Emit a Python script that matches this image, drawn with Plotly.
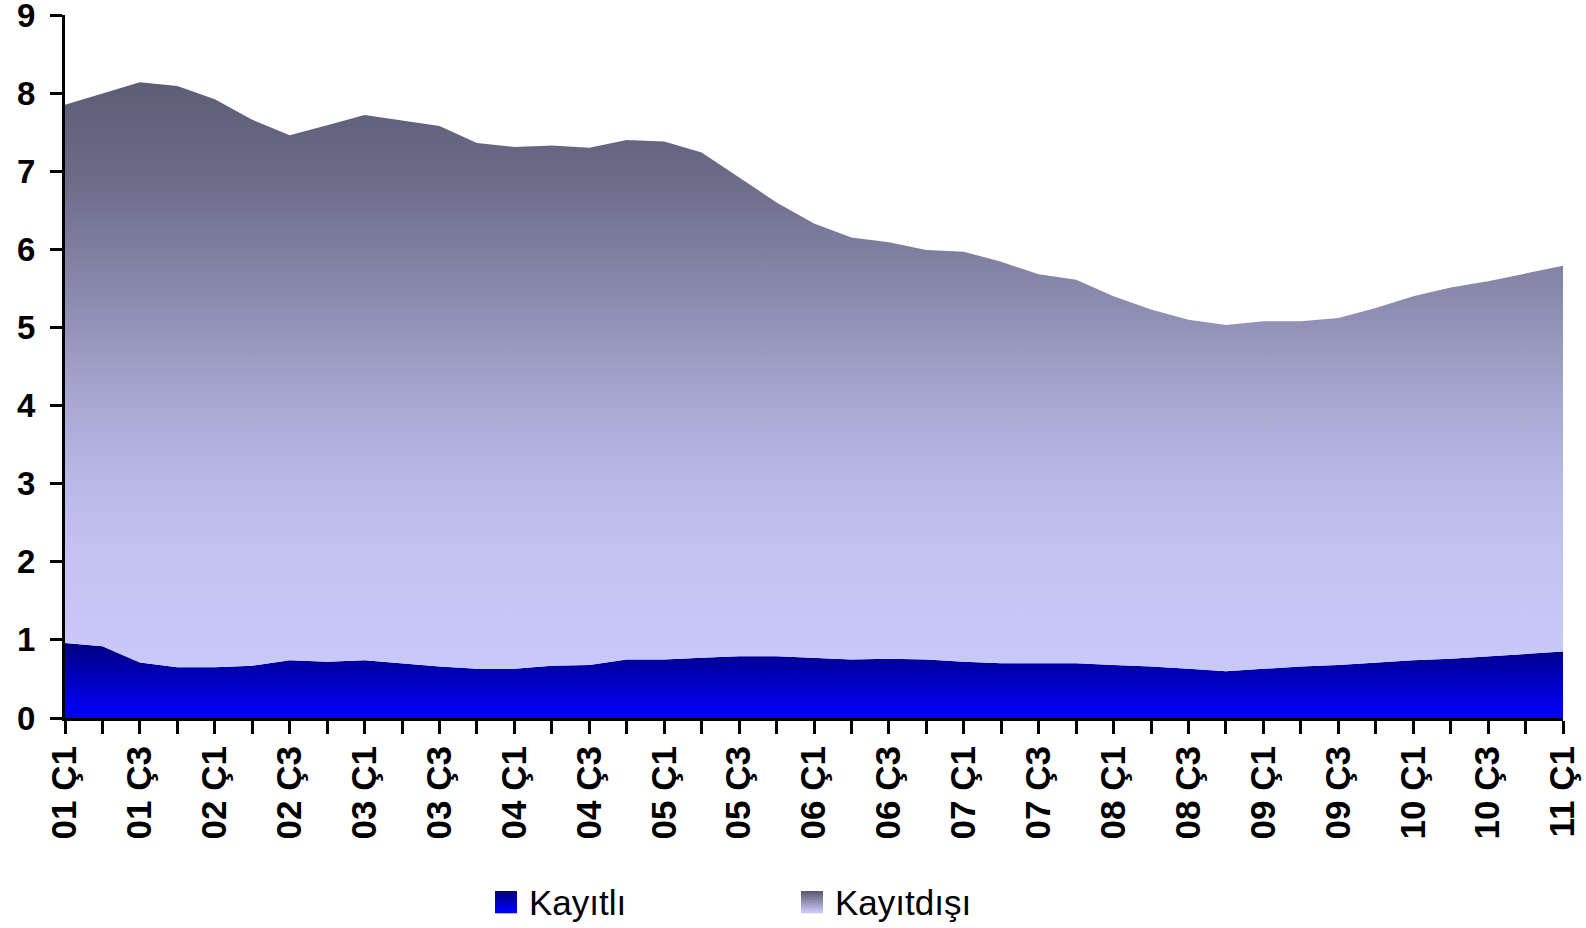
import plotly.graph_objects as go

categories = [
    "01 Ç1", "01 Ç2", "01 Ç3", "01 Ç4", "02 Ç1", "02 Ç2", "02 Ç3", "02 Ç4",
    "03 Ç1", "03 Ç2", "03 Ç3", "03 Ç4", "04 Ç1", "04 Ç2", "04 Ç3", "04 Ç4",
    "05 Ç1", "05 Ç2", "05 Ç3", "05 Ç4", "06 Ç1", "06 Ç2", "06 Ç3", "06 Ç4",
    "07 Ç1", "07 Ç2", "07 Ç3", "07 Ç4", "08 Ç1", "08 Ç2", "08 Ç3", "08 Ç4",
    "09 Ç1", "09 Ç2", "09 Ç3", "09 Ç4", "10 Ç1", "10 Ç2", "10 Ç3", "10 Ç4",
    "11 Ç1",
]

kayitli = [
    0.96, 0.92, 0.71, 0.65, 0.65, 0.67, 0.74, 0.72, 0.74, 0.70,
    0.66, 0.63, 0.63, 0.67, 0.68, 0.75, 0.75, 0.77, 0.79, 0.79,
    0.77, 0.75, 0.76, 0.75, 0.72, 0.70, 0.70, 0.70, 0.68, 0.66,
    0.63, 0.60, 0.63, 0.66, 0.68, 0.71, 0.74, 0.76, 0.79, 0.82,
    0.85,
]

kayitdisi = [
    6.89, 7.07, 7.43, 7.44, 7.27, 6.99, 6.72, 6.87, 6.98, 6.95,
    6.92, 6.73, 6.68, 6.66, 6.62, 6.65, 6.63, 6.47, 6.13, 5.81,
    5.56, 5.40, 5.33, 5.24, 5.25, 5.14, 4.98, 4.91, 4.72, 4.57,
    4.47, 4.43, 4.45, 4.42, 4.44, 4.54, 4.66, 4.75, 4.80, 4.87,
    4.94,
]

series_names = ["Kayıtlı", "Kayıtdışı"]
y_ticks = [0, 1, 2, 3, 4, 5, 6, 7, 8, 9]
x_ticktext = [c if i % 2 == 0 else "" for i, c in enumerate(categories)]

# ---- styling ----
W, H = 1586, 928
ML, MR, MT, MB = 65, 23, 15, 210
PW, PH = W - ML - MR, H - MT - MB

TOP = 8.2
disi_scale = [
    [0.0, "#C9C9FA"],
    [1.0 / TOP, "#C8C8F8"],
    [2.0 / TOP, "#C4C4F3"],
    [3.0 / TOP, "#B9B9E7"],
    [4.0 / TOP, "#A8A8D3"],
    [5.0 / TOP, "#9393BA"],
    [6.0 / TOP, "#7E7E9E"],
    [7.0 / TOP, "#6A6A87"],
    [1.0, "#5C5C76"],
]
kay_scale = [[0, "#0000FF"], [1, "#000080"]]

fig = go.Figure()
fig.add_trace(go.Scatter(
    x=categories, y=kayitli, name=series_names[0], mode="lines",
    stackgroup="one", line=dict(width=0), showlegend=False,
    fillgradient=dict(type="vertical", start=0, stop=0.96, colorscale=kay_scale),
    hoverinfo="skip",
))
fig.add_trace(go.Scatter(
    x=categories, y=kayitdisi, name=series_names[1], mode="lines",
    stackgroup="one", line=dict(width=0), showlegend=False,
    fillgradient=dict(type="vertical", start=0, stop=TOP, colorscale=disi_scale),
    hoverinfo="skip",
))


def px_x(px):
    return (px - ML) / PW


def px_y(py):
    return (H - MB - py) / PH


def hex_to_rgb(h):
    h = h.lstrip("#")
    return tuple(int(h[i:i + 2], 16) for i in (0, 2, 4))


def lerp_color(c1, c2, t):
    a, b = hex_to_rgb(c1), hex_to_rgb(c2)
    return "rgb(%d,%d,%d)" % tuple(round(a[k] + (b[k] - a[k]) * t) for k in range(3))


# custom legend: gradient squares + text
legend_items = [
    (series_names[0], 495, "#000080", "#0000FF"),
    (series_names[1], 801, "#5C5C76", "#C8C8F8"),
]
SQ = 22
LEG_CY = 902
shapes = []
annotations = []
NSTRIP = 11
for name, x0, ctop, cbot in legend_items:
    top = LEG_CY - SQ / 2
    for k in range(NSTRIP):
        y_a = top + SQ * k / NSTRIP
        y_b = top + SQ * (k + 1) / NSTRIP
        col = lerp_color(ctop, cbot, k / (NSTRIP - 1))
        shapes.append(dict(
            type="rect", xref="paper", yref="paper",
            x0=px_x(x0), x1=px_x(x0 + SQ), y0=px_y(y_b + 0.3), y1=px_y(y_a),
            fillcolor=col, line=dict(width=0), layer="above",
        ))
    annotations.append(dict(
        text=name, xref="paper", yref="paper",
        x=px_x(x0 + SQ + 10), y=px_y(LEG_CY), xanchor="left", yanchor="middle",
        showarrow=False,
        font=dict(family="Liberation Sans, Arial, sans-serif", size=35, color="black"),
    ))

x_tick_font = dict(family="Liberation Sans, Arial, sans-serif", size=35,
                   color="black", weight="bold")
y_tick_font = dict(family="Liberation Sans, Arial, sans-serif", size=33,
                   color="black", weight="bold")

fig.update_layout(
    width=W, height=H,
    margin=dict(l=ML, r=MR, t=MT, b=MB, autoexpand=False),
    paper_bgcolor="white", plot_bgcolor="white",
    showlegend=False,
    shapes=shapes, annotations=annotations,
    xaxis=dict(
        type="category", range=[0, len(categories) - 1],
        tickmode="array", tickvals=categories, ticktext=x_ticktext,
        tickangle=-90, tickfont=x_tick_font,
        ticks="outside", ticklen=13, tickwidth=2.5, tickcolor="black",
        showline=True, linecolor="black", linewidth=3,
        showgrid=False, zeroline=False, ticklabelstandoff=-2,
        ticklabeloverflow="allow", automargin=False,
    ),
    yaxis=dict(
        range=[0, 9], tickmode="array", tickvals=y_ticks,
        tickfont=y_tick_font,
        ticks="outside", ticklen=12, tickwidth=2.5, tickcolor="black",
        showline=True, linecolor="black", linewidth=3,
        showgrid=False, zeroline=False, ticklabelstandoff=8,
        ticklabeloverflow="allow", automargin=False,
    ),
)

fig.write_html(
    "out.html",
    config={"displayModeBar": False},
    post_script="document.body.style.margin='0px';document.body.style.overflow='hidden';",
)
